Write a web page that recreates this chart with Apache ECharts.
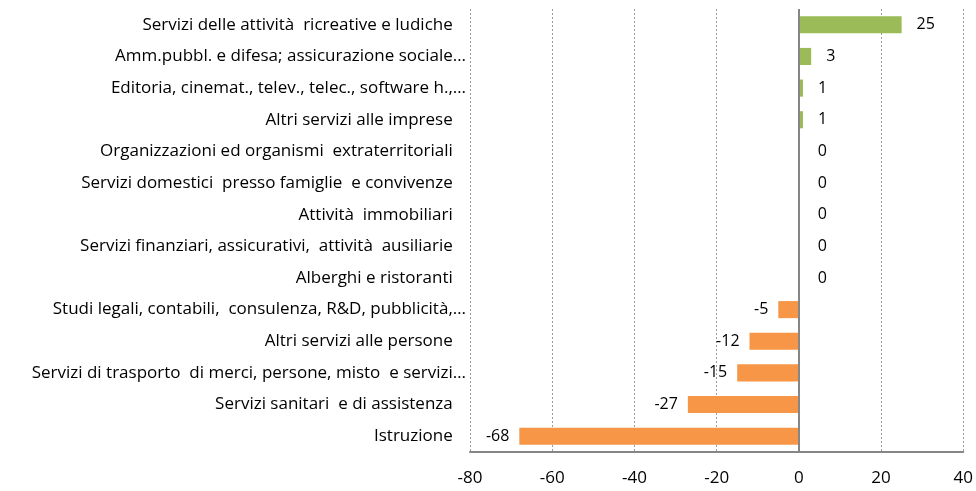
<!DOCTYPE html>
<html>
<head>
<meta charset="utf-8">
<script src="https://cdn.jsdelivr.net/npm/echarts@6/dist/echarts.min.js"></script>
<style>
html, body { margin: 0; padding: 0; background: #ffffff; }
#chart { width: 976px; height: 491px; }
</style>
</head>
<body>
<div id="chart"></div>
<script>
// categorie (dall'alto verso il basso)
const categories = [
	"Servizi delle attività  ricreative e ludiche",
	"Amm.pubbl. e difesa; assicurazione sociale…",
	"Editoria, cinemat., telev., telec., software h.,…",
	"Altri servizi alle imprese",
	"Organizzazioni ed organismi  extraterritoriali",
	"Servizi domestici  presso famiglie  e convivenze",
	"Attività  immobiliari",
	"Servizi finanziari, assicurativi,  attività  ausiliarie",
	"Alberghi e ristoranti",
	"Studi legali, contabili,  consulenza, R&D, pubblicità,…",
	"Altri servizi alle persone",
	"Servizi di trasporto  di merci, persone, misto  e servizi…",
	"Servizi sanitari  e di assistenza",
	"Istruzione",
]
const values = [25, 3, 1, 1, 0, 0, 0, 0, 0, -5, -12, -15, -27, -68]
const xTicks = [-80, -60, -40, -20, 0, 20, 40]

const green = "#9BBB59"
const orange = "#F79646"
const axisGrey = "#868686"

let myCharts = echarts.init(document.getElementById("chart"))
let option = {
	animation: false,
	grid: {
		left: 470,
		right: 10,
		top: 9,
		bottom: 39,
	},
	xAxis: {
		type: "value",
		min: xTicks[0],
		max: xTicks[xTicks.length - 1],
		interval: 20,
		axisLine: { show: true, lineStyle: { color: axisGrey, width: 2 } },
		axisTick: { show: false },
		axisLabel: {
			margin: 18,
			fontSize: 17,
			color: "#000000",
			fontFamily: "Open Sans",
		},
		splitLine: {
			show: true,
			lineStyle: { color: "#9a9a9a", type: [2, 2], width: 1 },
		},
	},
	yAxis: {
		type: "category",
		data: categories,
		inverse: true,
		axisLine: { show: false, onZero: false },
		axisTick: { show: false },
		axisLabel: {
			margin: 4,
			fontSize: 17,
			color: "#000000",
			fontFamily: "Open Sans",
			formatter: function (v) {
				return v.endsWith("…") ? v : v + "   "
			},
		},
	},
	series: [
		{
			type: "bar",
			barWidth: "54%",
			data: values.map((v) => ({
				value: v,
				itemStyle: { color: v > 0 ? green : orange },
				label: {
					show: true,
					position: v < 0 ? "left" : "right",
					distance: v < 0 ? 10 : v > 0 ? 15 : 19,
					fontSize: 16,
					color: "#000000",
					fontFamily: "Open Sans",
				},
			})),
			markLine: {
				silent: true,
				symbol: "none",
				label: { show: false },
				lineStyle: { color: axisGrey, type: "solid", width: 2 },
				data: [{ xAxis: 0 }],
			},
		},
	],
}
myCharts.setOption(option)
</script>
</body>
</html>
